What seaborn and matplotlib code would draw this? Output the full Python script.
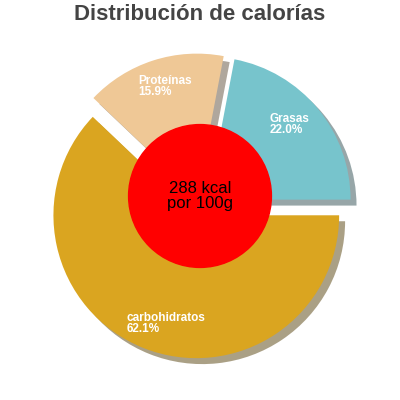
import matplotlib
matplotlib.use("Agg")
import matplotlib.pyplot as plt
import seaborn as sns
import numpy as np

labels = ["Grasas", "Proteínas", "carbohidratos"]
values = [22.0, 15.9, 62.1]
colors = ["#77c4cc", "#efc896", "#daa520"]

sns.set_theme(style="white")
plt.rcParams['font.family'] = ['Liberation Sans', 'DejaVu Sans']

fig, ax = plt.subplots(figsize=(4, 4), dpi=100)
fig.subplots_adjust(left=0.0, right=1.0, bottom=0.0, top=0.92)

wedges, _ = ax.pie(values, colors=colors, startangle=0, counterclock=True,
                   explode=[0.07, 0.07, 0.07], shadow={'ox': 0.03, 'oy': -0.03, 'shade': 0.6},
                   radius=1.0, wedgeprops={'linewidth': 0})

angles = np.cumsum([0] + values) / 100 * 360
for i, (lab, v) in enumerate(zip(labels, values)):
    mid = np.deg2rad((angles[i] + angles[i + 1]) / 2)
    r = 0.78 if i < 2 else 0.85
    x, y = (r + 0.07) * np.cos(mid), (r + 0.07) * np.sin(mid)
    ax.text(x - 0.17, y + 0.03, f"{lab}\n{v:.1f}%", color="white", fontsize=8.5,
            fontweight="bold", ha="left", va="center", linespacing=0.9)

ax.add_patch(plt.Circle((0, 0.07), 0.5, color="red", zorder=5))
ax.text(0, 0.07, "288 kcal\npor 100g", ha="center", va="center", fontsize=12,
        color="black", zorder=6, linespacing=1.0)
ax.set_xlim(-1.4, 1.4)
ax.set_ylim(-1.28, 1.14)
ax.set_aspect("equal")
ax.set_axis_off()
fig.suptitle("Distribución de calorías", fontsize=16, fontweight="bold", color="#444444", y=0.99)
fig.savefig("out.png", dpi=100)
